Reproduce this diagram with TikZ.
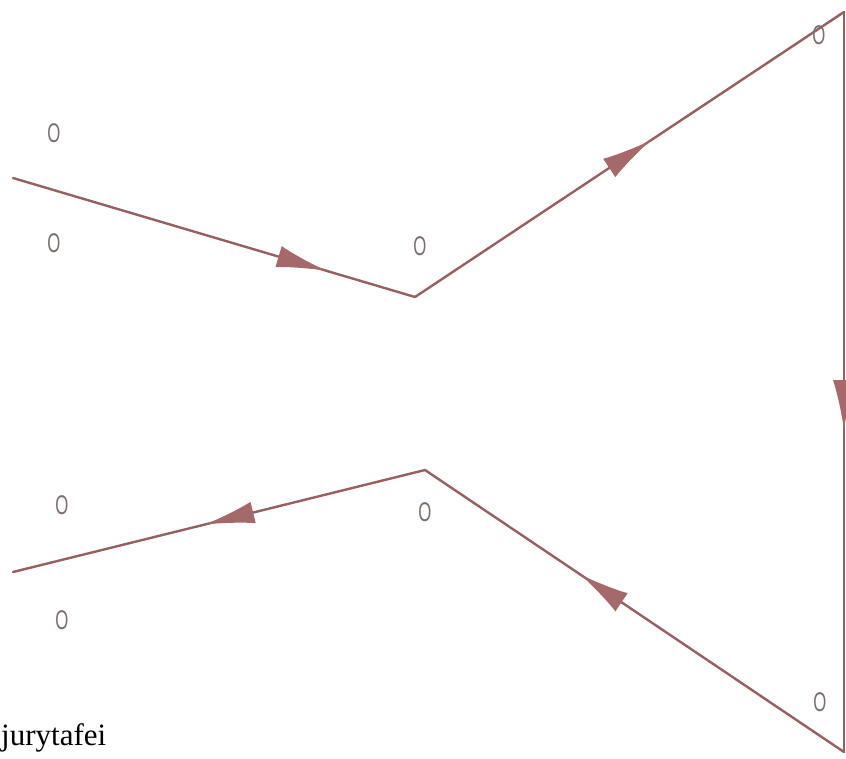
\documentclass[tikz,border=0pt]{standalone}
\usepackage{fontspec}
\setmainfont{Liberation Serif}
\newfontfamily\lblfont{Liberation Sans}
\usetikzlibrary{decorations.markings,arrows.meta}
\definecolor{raycol}{RGB}{150,96,96}
\definecolor{tipcol}{RGB}{165,105,105}
\definecolor{lblcol}{RGB}{125,110,110}
\begin{document}
\begin{tikzpicture}[x=1pt,y=-1pt,
  raypath/.style={draw=raycol,line width=2.4pt,line cap=round,line join=round},
  lab/.style={font=\lblfont\fontsize{27}{27}\selectfont,text=lblcol,xscale=0.62,inner sep=0},
  midarrow/.style={postaction={decorate},decoration={markings,
     mark=at position #1 with {\arrow{Latex[length=50pt,width=22pt,color=tipcol]}}}}
]
\fill[white] (0,0) rectangle (846,758);
\useasboundingbox (0,0) rectangle (846,758);

\coordinate (a) at (13,178);
\coordinate (v1) at (415,297);
\coordinate (tr) at (844,12);
\coordinate (br) at (844,752);
\coordinate (v2) at (425,470);
\coordinate (b) at (13,572);

\draw[raypath,midarrow=0.78] (a) -- (v1);
\draw[raypath,midarrow=0.55] (v1) -- (tr);
\draw[raypath,midarrow=0.565] (tr) -- (br);
\draw[raypath,midarrow=0.63] (br) -- (v2);
\draw[raypath,midarrow=0.535] (v2) -- (b);

\node[lab] (o1) at (54,133) {O};
\node[lab] (o2) at (54,243) {O};
\node[lab] (o3) at (420,246) {O};
\node[lab] (o4) at (819,35) {O};
\node[lab] (o5) at (62,505) {O};
\node[lab] (o6) at (425,512) {O};
\node[lab] (o7) at (62,620) {O};
\node[lab] (o8) at (820,702) {O};

\node[anchor=base west,inner sep=0,font=\fontsize{31}{31}\selectfont] (sig) at (1,745) {jurytafei};
\end{tikzpicture}
\end{document}
